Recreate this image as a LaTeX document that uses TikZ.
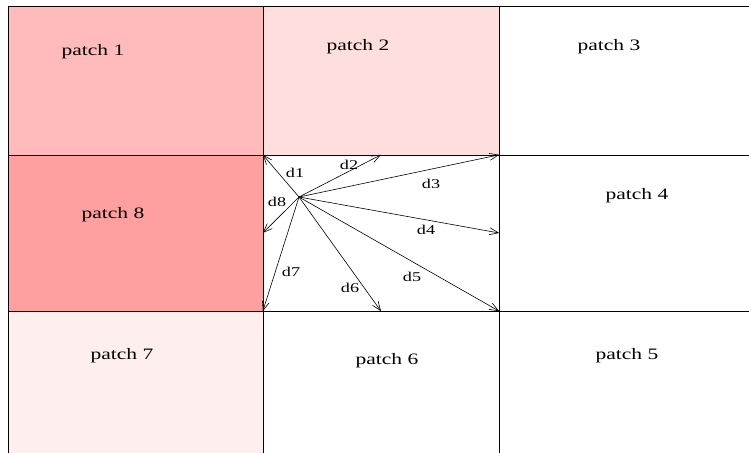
\documentclass[tikz,border=0pt]{standalone}
\usepackage{fontspec}
\setmainfont{Liberation Serif}[FakeStretch=1.35]
\usetikzlibrary{arrows.meta, positioning}
\definecolor{patchA}{RGB}{255,187,187}
\definecolor{patchB}{RGB}{255,222,222}
\definecolor{patchH}{RGB}{255,160,160}
\definecolor{patchG}{RGB}{255,238,238}
\tikzset{
x=1bp, y=-1bp, % one unit is one pixel, y runs downwards
grid/.style={line width=0.9bp}, % the patch borders
dir/.style={-{Straight Barb[length=9bp,width=7bp]}, line width=0.6bp}, % the direction vectors
plabel/.style={font=\fontsize{16}{18}\selectfont}, % patch names
dlabel/.style={font=\fontsize{13.5}{15}\selectfont, inner sep=0}, % d1 ... d8
}
\begin{document}
\begin{tikzpicture}
                \useasboundingbox (0,0) rectangle (749,453);
                \fill[patchA] (8,6) rectangle (263,155);
                \fill[patchB] (263,6) rectangle (499,155);
                \fill[patchH] (8,155) rectangle (263,311);
                \fill[patchG] (8,311) rectangle (263,453);

                \draw[grid] (8,453) -- (8,6) -- (749,6);
                \draw[grid] (8,155) -- (749,155) (8,311) -- (749,311);
                \draw[grid] (263,6) -- (263,453) (499,6) -- (499,453);

                \node[plabel] (p1) at (93,52) {patch 1};
                \node[plabel] (p2) at (358,47) {patch 2};
                \node[plabel] (p3) at (609,47) {patch 3};
                \node[plabel] (p4) at (637,196) {patch 4};
                \node[plabel] (p5) at (627,356) {patch 5};
                \node[plabel] (p6) at (387,361) {patch 6};
                \node[plabel] (p7) at (122,356) {patch 7};
                \node[plabel] (p8) at (113,215) {patch 8};

                \node[minimum width=236bp, minimum height=156bp, inner sep=0] (mid) at (381,233) {};
                \coordinate (src) at (299,197);

                \draw[dir] (src) -- (mid.north west);
                \draw[dir] (src) -- (mid.north);
                \draw[dir] (src) -- (mid.north east);
                \draw[dir] (src) -- (mid.east);
                \draw[dir] (src) -- (mid.south east);
                \draw[dir] (src) -- (mid.south);
                \draw[dir] (src) -- (mid.south west);
                \draw[dir] (src) -- (mid.west);

                \node[dlabel] (d1) at (295,173) {d1};
                \node[dlabel] (d2) at (349,165) {d2};
                \node[dlabel] (d3) at (431,184) {d3};
                \node[dlabel] (d4) at (426,230) {d4};
                \node[dlabel] (d5) at (412,277) {d5};
                \node[dlabel] (d6) at (350,288) {d6};
                \node[dlabel] (d7) at (291,272) {d7};
                \node[dlabel] (d8) at (277,202) {d8};
\end{tikzpicture}
\end{document}
